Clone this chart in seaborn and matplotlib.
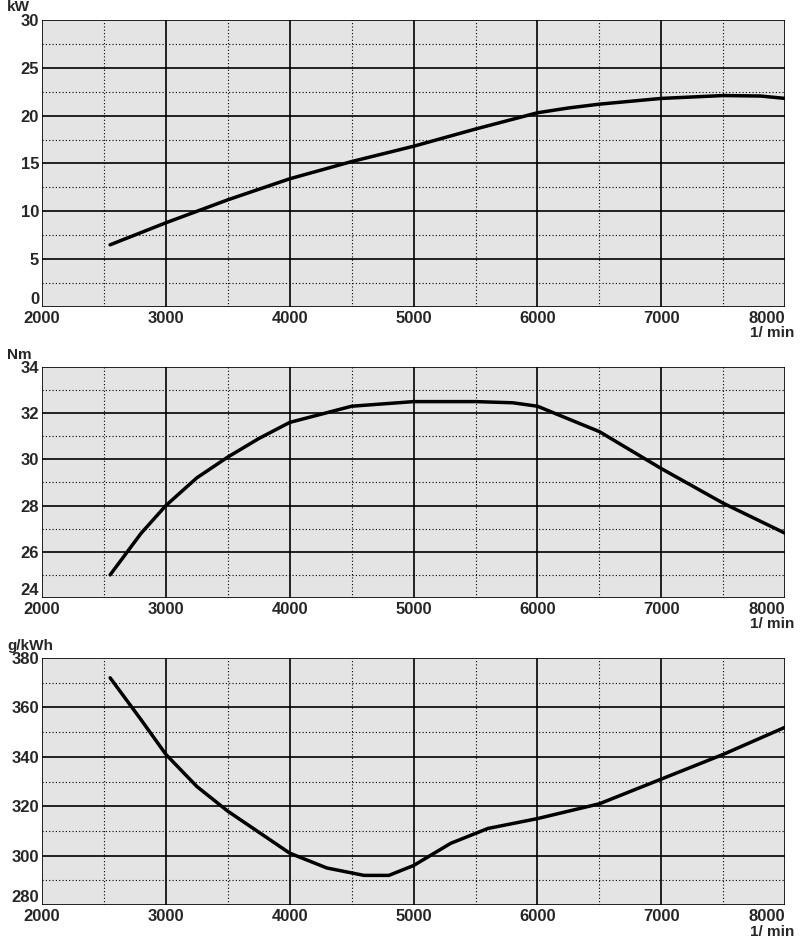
import numpy as np
import matplotlib.pyplot as plt
import seaborn as sns

rpm_p = [2550, 3000, 3500, 4000, 4500, 5000, 5500, 6000, 6250, 6500, 7000, 7500, 7800, 8000]
power = [6.5, 8.8, 11.2, 13.4, 15.2, 16.8, 18.6, 20.3, 20.8, 21.2, 21.8, 22.1, 22.05, 21.8]

rpm_t = [2550, 2800, 3000, 3250, 3500, 3750, 4000, 4500, 5000, 5500, 5800, 6000, 6500, 7000, 7500, 8000]
torque = [25.0, 26.8, 28.0, 29.2, 30.1, 30.9, 31.6, 32.3, 32.5, 32.5, 32.45, 32.3, 31.2, 29.6, 28.1, 26.8]

rpm_b = [2550, 2800, 3000, 3250, 3500, 4000, 4300, 4600, 4800, 5000, 5300, 5600, 6000, 6500, 7000, 7500, 8000]
bsfc = [372, 355, 341, 328, 318, 301, 295, 292, 292, 296, 305, 311, 315, 321, 331, 341, 352]

sns.set_style("white")
plt.rcParams['font.family'] = ['Liberation Sans', 'DejaVu Sans']
fig = plt.figure(figsize=(8, 9.46), dpi=100)

panels = [
    (rpm_p, power, [0.0525, 0.6755, 0.929, 0.3034], (0, 30), 5, "kW"),
    (rpm_t, torque, [0.0525, 0.3679, 0.929, 0.2442], (24, 34), 2, "Nm"),
    (rpm_b, bsfc, [0.0525, 0.0433, 0.929, 0.2611], (280, 380), 20, "g/kWh"),
]

for x, y, rect, ylim, step, unit in panels:
    ax = fig.add_axes(rect)
    ax.set_facecolor("#e4e4e4")
    ax.set_xlim(2000, 8000)
    ax.set_ylim(*ylim)
    ax.set_xticks(np.arange(2000, 8001, 1000))
    ax.set_yticks(np.arange(ylim[0], ylim[1] + step / 2, step))
    ax.set_xticks(np.arange(2500, 8000, 1000), minor=True)
    ax.set_yticks(np.arange(ylim[0] + step / 2, ylim[1], step), minor=True)
    ax.grid(which="major", color="black", lw=1.2)
    ax.grid(which="minor", color="black", lw=0.8, ls=(0, (1, 2)))
    sns.lineplot(x=x, y=y, ax=ax, color="black", lw=2.5)
    for s in ax.spines.values():
        s.set_visible(False)
    ax.tick_params(axis="both", which="both", length=0, labelsize=12, pad=2)
    ax.tick_params(axis="x", pad=3)
    for lab in ax.get_xticklabels() + ax.get_yticklabels():
        lab.set_fontweight("bold")
    ax.get_xticklabels()[-1].set_horizontalalignment("right")
    ax.get_yticklabels()[0].set_verticalalignment("bottom")
    ax.text(-0.047, 1.02, unit, transform=ax.transAxes, ha="left", va="bottom",
            fontsize=11, fontweight="bold")
    ax.text(1.012, -0.068 * 0.3034 / rect[3], "1/ min", transform=ax.transAxes,
            ha="right", va="top", fontsize=11, fontweight="bold")

fig.savefig("out.png", dpi=100)
